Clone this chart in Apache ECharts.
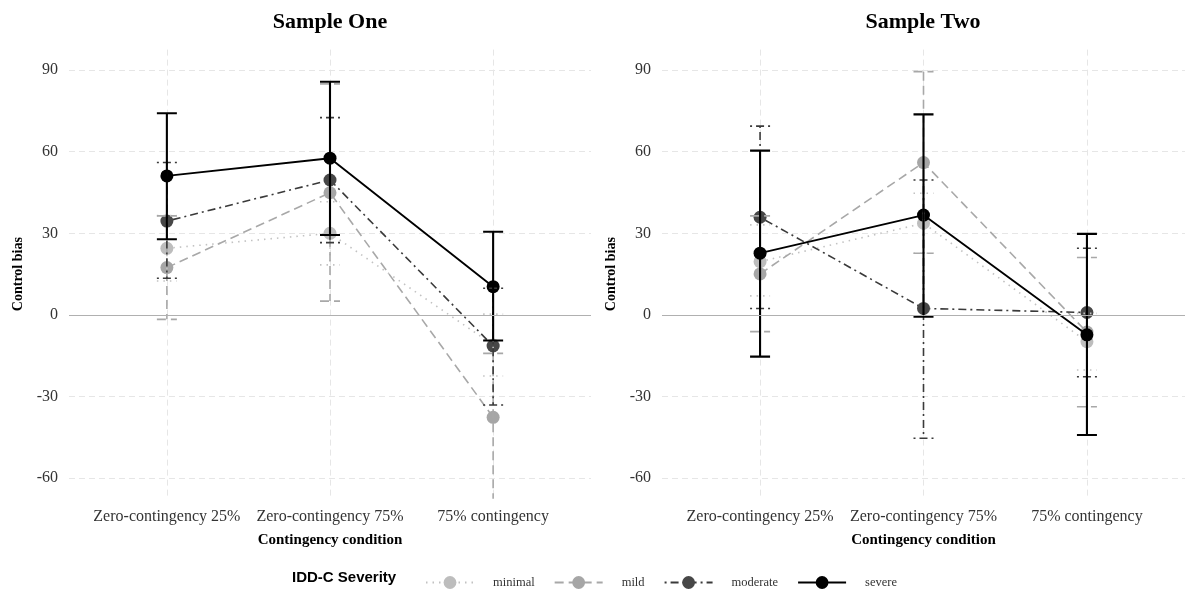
<!DOCTYPE html>
<html>
<head>
<meta charset="utf-8">
<script src="https://cdn.jsdelivr.net/npm/echarts@6/dist/echarts.min.js"></script>
<style>html,body{margin:0;padding:0;background:#fff}#c{width:1185px;height:599px}</style>
</head>
<body>
<div id="c"></div>
<script>
// ---- data ----
const categories = ['Zero-contingency 25%', 'Zero-contingency 75%', '75% contingency'];
const groups = ['minimal', 'mild', 'moderate', 'severe'];
const yTicks = [-60, -30, 0, 30, 60, 90];
const panelTitles = ['Sample One', 'Sample Two'];

// Sample One: means, lower and upper error-bar ends
const s1_minimal = [24.5, 30.0, -11.0];
const s1_minimal_lo = [12.5, 18.4, -22.4];
const s1_minimal_hi = [36.5, 41.6, 0.3];
const s1_mild = [17.4, 44.9, -37.6];
const s1_mild_lo = [-1.6, 5.1, -70.0];
const s1_mild_hi = [36.4, 84.9, -14.1];
const s1_moderate = [34.5, 49.6, -11.4];
const s1_moderate_lo = [13.5, 26.6, -33.1];
const s1_moderate_hi = [56.0, 72.5, 9.8];
const s1_severe = [51.1, 57.6, 10.4];
const s1_severe_lo = [27.8, 29.4, -9.4];
const s1_severe_hi = [74.1, 85.7, 30.6];

// Sample Two
const s2_minimal = [19.6, 33.7, -9.8];
const s2_minimal_lo = [7.0, 22.7, -20.2];
const s2_minimal_hi = [33.1, 44.7, 0.6];
const s2_mild = [15.1, 56.0, -6.3];
const s2_mild_lo = [-6.1, 22.7, -33.7];
const s2_mild_hi = [36.4, 89.4, 21.1];
const s2_moderate = [35.9, 2.4, 0.9];
const s2_moderate_lo = [2.4, -45.3, -22.7];
const s2_moderate_hi = [69.4, 49.6, 24.5];
const s2_severe = [22.7, 36.7, -7.3];
const s2_severe_lo = [-15.3, -0.6, -44.1];
const s2_severe_hi = [60.4, 73.7, 29.8];

const panels = [
  { mean: [s1_minimal, s1_mild, s1_moderate, s1_severe],
    lo: [s1_minimal_lo, s1_mild_lo, s1_moderate_lo, s1_severe_lo],
    hi: [s1_minimal_hi, s1_mild_hi, s1_moderate_hi, s1_severe_hi] },
  { mean: [s2_minimal, s2_mild, s2_moderate, s2_severe],
    lo: [s2_minimal_lo, s2_mild_lo, s2_moderate_lo, s2_severe_lo],
    hi: [s2_minimal_hi, s2_mild_hi, s2_moderate_hi, s2_severe_hi] }
];

// ---- styles ----
const SERIF = 'Liberation Serif';
const styles = {
  minimal:  { line: '#c2c2c2', point: '#bdbdbd', dash: [1.5, 5], lw: 1.6, ew: 1.6 },
  mild:     { line: '#a8a8a8', point: '#a6a6a6', dash: [9, 5], lw: 1.6, ew: 1.6 },
  moderate: { line: '#3a3a3a', point: '#474747', dash: [2, 4, 8, 4], lw: 1.6, ew: 1.6 },
  severe:   { line: '#000000', point: '#000000', dash: 'solid', lw: 1.9, ew: 2.1 }
};

const gridDefs = [
  { left: 69, top: 49.6, width: 522, height: 449.1 },
  { left: 662, top: 49.6, width: 523, height: 449.1 }
];

const xAxes = [], yAxes = [], series = [];
gridDefs.forEach((g, gi) => {
  xAxes.push({
    gridIndex: gi, type: 'value', min: -0.6, max: 2.6,
    axisLine: { show: false },
    axisTick: { show: false, customValues: [0, 1, 2] },
    axisLabel: { customValues: [0, 1, 2], formatter: v => categories[Math.round(v)] || '',
      fontFamily: SERIF, fontSize: 16, color: '#333', margin: 10 },
    splitLine: { show: true, lineStyle: { color: '#e6e6e6', type: [6, 4], width: 1 } },
    name: 'Contingency condition', nameLocation: 'middle', nameGap: 34,
    nameTextStyle: { fontFamily: SERIF, fontSize: 15, fontWeight: 'bold', color: '#000' }
  });
  yAxes.push({
    gridIndex: gi, type: 'value', min: -67.5, max: 97.5,
    axisLine: { show: false },
    axisTick: { show: false, customValues: yTicks },
    axisLabel: { customValues: yTicks, fontFamily: SERIF, fontSize: 16, color: '#333', margin: 11 },
    splitLine: { show: true, lineStyle: { color: '#e6e6e6', type: [6, 4], width: 1 } },
    name: 'Control bias', nameLocation: 'middle', nameGap: 44, nameRotate: 90,
    nameTextStyle: { fontFamily: SERIF, fontSize: 14, fontWeight: 'bold', color: '#000' }
  });
});

// line + point series
panels.forEach((p, pi) => {
  groups.forEach((gname, k) => {
    const st = styles[gname];
    const s = {
      name: gname, type: 'line', xAxisIndex: pi, yAxisIndex: pi,
      data: p.mean[k].map((v, i) => [i, v]),
      symbol: 'circle', symbolSize: 13,
      itemStyle: { color: st.point },
      lineStyle: { color: st.line, type: st.dash, width: st.lw },
      z: 2 + k * 0.01, animation: false
    };
    if (k === 0) {
      s.markLine = { silent: true, symbol: 'none', label: { show: false },
        lineStyle: { color: '#b0b0b0', type: 'solid', width: 1 },
        data: [{ yAxis: 0 }], animation: false };
    }
    series.push(s);
  });
});

// error bars
panels.forEach((p, pi) => {
  groups.forEach((gname, k) => {
    const st = styles[gname];
    series.push({
      name: gname + ' error', type: 'custom', xAxisIndex: pi, yAxisIndex: pi,
      data: p.mean[k].map((v, i) => [i, p.lo[k][i], p.hi[k][i]]),
      encode: { x: 0, y: [1, 2] }, clip: true, z: 3 + k * 0.01, animation: false,
      renderItem: (params, api) => {
        const x = api.value(0);
        const top = api.coord([x, api.value(2)]);
        const bot = api.coord([x, api.value(1)]);
        const hw = 10;
        const style = { stroke: st.line, lineWidth: st.ew, fill: null,
          lineDash: st.dash === 'solid' ? null : st.dash };
        return { type: 'group', children: [
          { type: 'line', shape: { x1: top[0], y1: top[1], x2: bot[0], y2: bot[1] }, style },
          { type: 'line', shape: { x1: top[0] - hw, y1: top[1], x2: top[0] + hw, y2: top[1] }, style },
          { type: 'line', shape: { x1: bot[0] - hw, y1: bot[1], x2: bot[0] + hw, y2: bot[1] }, style }
        ]};
      }
    });
  });
});

const chart = echarts.init(document.getElementById('c'), null, { renderer: 'canvas' });
chart.setOption({
  backgroundColor: '#fff',
  animation: false,
  grid: gridDefs,
  xAxis: xAxes,
  yAxis: yAxes,
  legend: {
    data: groups, left: 420, top: 571, itemWidth: 48, itemHeight: 16, itemGap: 19,
    textStyle: { fontFamily: SERIF, fontSize: 12.5, color: '#333', padding: [0, 0, 0, 14] },
    selectedMode: false
  },
  graphic: [
    { type: 'text', x: 330, y: 22, style: { text: panelTitles[0], textAlign: 'center', textVerticalAlign: 'middle',
      font: 'bold 22px "Liberation Serif"', fill: '#000' } },
    { type: 'text', x: 923, y: 22, style: { text: panelTitles[1], textAlign: 'center', textVerticalAlign: 'middle',
      font: 'bold 22px "Liberation Serif"', fill: '#000' } },
    { type: 'text', x: 292, y: 578, style: { text: 'IDD-C Severity', textAlign: 'left', textVerticalAlign: 'middle',
      font: 'bold 15px "Liberation Sans"', fill: '#000' } }
  ],
  series: series
});
</script>
</body>
</html>
